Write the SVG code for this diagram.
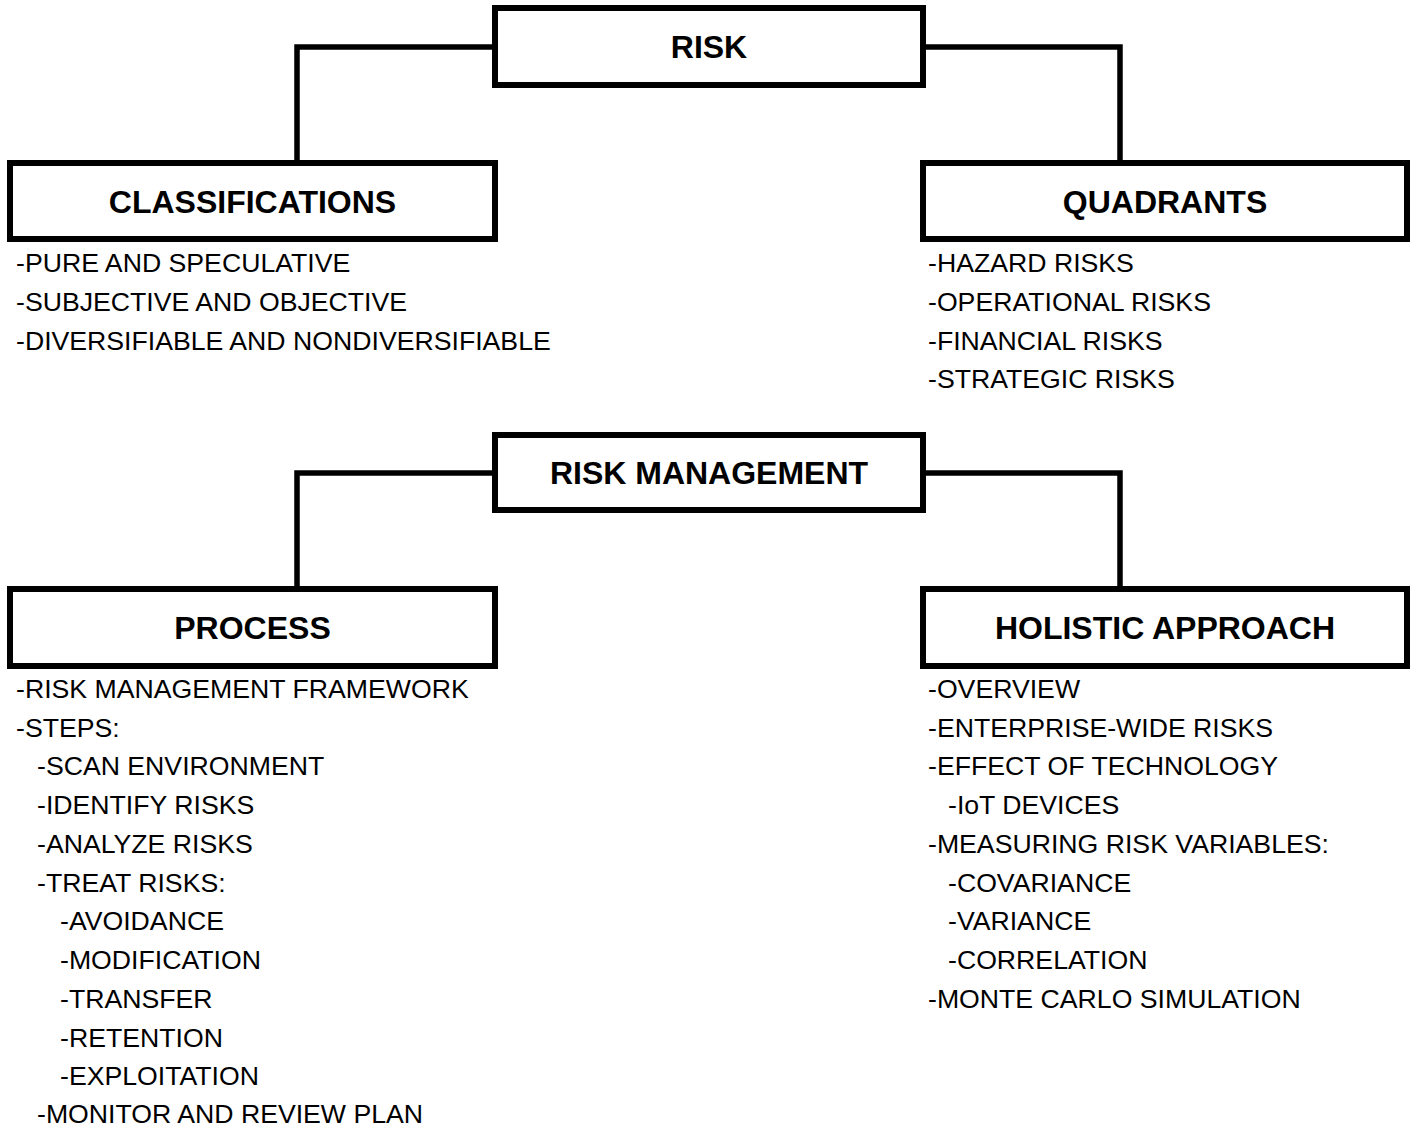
<svg xmlns="http://www.w3.org/2000/svg" width="1416" height="1129" viewBox="0 0 1416 1129">
  <style>
    .box { fill: #fff; stroke: #000; stroke-width: 6; }
    .link { fill: none; stroke: #000; stroke-width: 5.5; stroke-linejoin: miter; stroke-linecap: square; }
    .title { font-family: "Liberation Sans", Arial, sans-serif; font-weight: bold; font-size: 32px; fill: #000; text-anchor: middle; }
    .item { font-family: "Liberation Sans", Arial, sans-serif; font-size: 26.67px; fill: #000; }
  </style>
  <rect width="1416" height="1129" fill="#fff"/>

  <!-- connectors between the parent boxes and their branches -->
  <g id="connectors">
    <path class="link" d="M495,47 H297 V163"/>
    <path class="link" d="M923,47 H1120 V163"/>
    <path class="link" d="M495,473 H297 V589"/>
    <path class="link" d="M923,473 H1120 V589"/>
  </g>

  <g id="risk">
    <rect class="box" x="495" y="8" width="428" height="77"/>
    <text class="title" x="709" y="58">RISK</text>
  </g>

  <g id="classifications">
    <rect class="box" x="10" y="163" width="485" height="76"/>
    <text class="title" x="252.5" y="212.5">CLASSIFICATIONS</text>
    <text class="item" x="16" y="271.5">-PURE AND SPECULATIVE</text>
    <text class="item" x="16" y="310.5">-SUBJECTIVE AND OBJECTIVE</text>
    <text class="item" x="16" y="349.5">-DIVERSIFIABLE AND NONDIVERSIFIABLE</text>
  </g>

  <g id="quadrants">
    <rect class="box" x="923" y="163" width="484" height="76"/>
    <text class="title" x="1165" y="212.5">QUADRANTS</text>
    <text class="item" x="928" y="271.5">-HAZARD RISKS</text>
    <text class="item" x="928" y="310.5">-OPERATIONAL RISKS</text>
    <text class="item" x="928" y="349.5">-FINANCIAL RISKS</text>
    <text class="item" x="928" y="387.5">-STRATEGIC RISKS</text>
  </g>

  <g id="risk-management">
    <rect class="box" x="495" y="435" width="428" height="75"/>
    <text class="title" x="709" y="484">RISK MANAGEMENT</text>
  </g>

  <g id="process">
    <rect class="box" x="10" y="589" width="485" height="77"/>
    <text class="title" x="252.5" y="639">PROCESS</text>
    <text class="item" x="16" y="697.5">-RISK MANAGEMENT FRAMEWORK</text>
    <text class="item" x="16" y="736.5">-STEPS:</text>
    <text class="item" x="37" y="775">-SCAN ENVIRONMENT</text>
    <text class="item" x="37" y="813.5">-IDENTIFY RISKS</text>
    <text class="item" x="37" y="852.5">-ANALYZE RISKS</text>
    <text class="item" x="37" y="891.5">-TREAT RISKS:</text>
    <text class="item" x="60" y="929.5">-AVOIDANCE</text>
    <text class="item" x="60" y="968.5">-MODIFICATION</text>
    <text class="item" x="60" y="1007.5">-TRANSFER</text>
    <text class="item" x="60" y="1046.5">-RETENTION</text>
    <text class="item" x="60" y="1084.5">-EXPLOITATION</text>
    <text class="item" x="37" y="1123">-MONITOR AND REVIEW PLAN</text>
  </g>

  <g id="holistic-approach">
    <rect class="box" x="923" y="589" width="484" height="77"/>
    <text class="title" x="1165" y="639">HOLISTIC APPROACH</text>
    <text class="item" x="928" y="697.5">-OVERVIEW</text>
    <text class="item" x="928" y="736.5">-ENTERPRISE-WIDE RISKS</text>
    <text class="item" x="928" y="775">-EFFECT OF TECHNOLOGY</text>
    <text class="item" x="948" y="813.5">-IoT DEVICES</text>
    <text class="item" x="928" y="852.5">-MEASURING RISK VARIABLES:</text>
    <text class="item" x="948" y="891.5">-COVARIANCE</text>
    <text class="item" x="948" y="929.5">-VARIANCE</text>
    <text class="item" x="948" y="968.5">-CORRELATION</text>
    <text class="item" x="928" y="1007.5">-MONTE CARLO SIMULATION</text>
  </g>
</svg>
